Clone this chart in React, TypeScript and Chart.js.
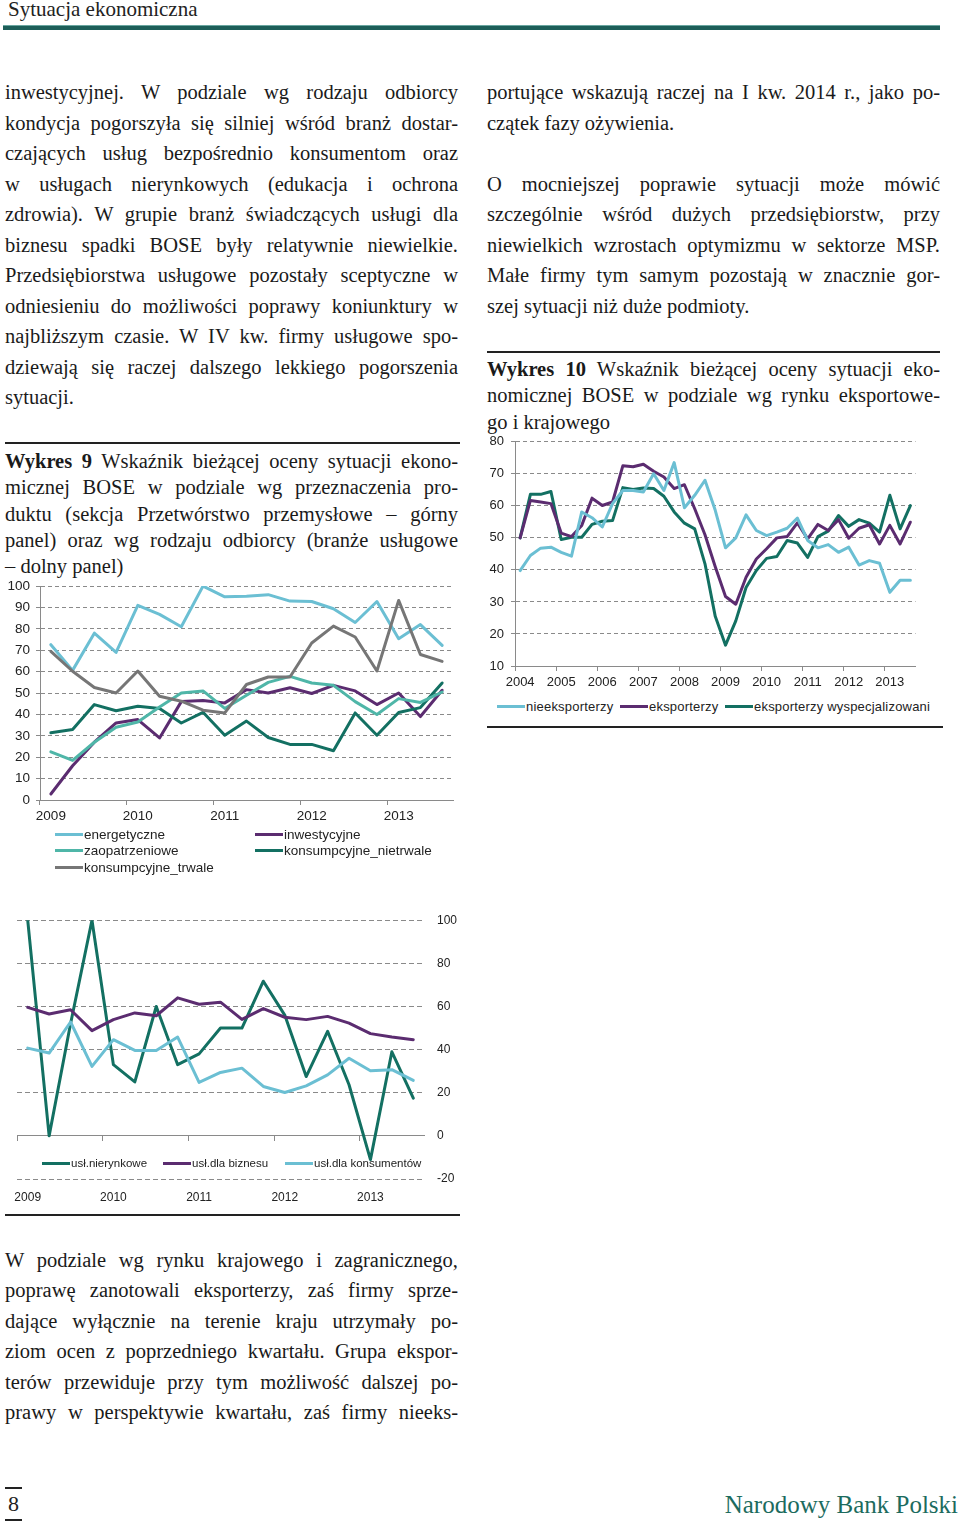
import React, { useEffect, useRef } from 'react';
import { Chart, registerables } from 'chart.js';

Chart.register(...registerables);

// ---------- DATA ----------
const quarters0913 = [
  '2009Q1', '2009Q2', '2009Q3', '2009Q4',
  '2010Q1', '2010Q2', '2010Q3', '2010Q4',
  '2011Q1', '2011Q2', '2011Q3', '2011Q4',
  '2012Q1', '2012Q2', '2012Q3', '2012Q4',
  '2013Q1', '2013Q2', '2013Q3',
];

const quarters0413 = [
  '2004Q1', '2004Q2', '2004Q3', '2004Q4',
  '2005Q1', '2005Q2', '2005Q3', '2005Q4',
  '2006Q1', '2006Q2', '2006Q3', '2006Q4',
  '2007Q1', '2007Q2', '2007Q3', '2007Q4',
  '2008Q1', '2008Q2', '2008Q3', '2008Q4',
  '2009Q1', '2009Q2', '2009Q3', '2009Q4',
  '2010Q1', '2010Q2', '2010Q3', '2010Q4',
  '2011Q1', '2011Q2', '2011Q3', '2011Q4',
  '2012Q1', '2012Q2', '2012Q3', '2012Q4',
  '2013Q1', '2013Q2', '2013Q3',
];

// Wykres 9 – górny panel
const energetyczne = [72.6, 60.6, 78, 69, 91, 86.8, 81, 100, 95, 95.3, 96, 93, 92.8, 89.4, 83, 92.8, 75.4, 82, 72.3];
const inwestycyjne = [2.8, 16, 27, 36, 37.6, 29, 46, 46.5, 45.4, 51.6, 50, 52.5, 49.8, 53.6, 51, 44.6, 50, 39, 51.3];
const zaopatrzeniowe = [22.5, 18.5, 27, 34, 36.5, 43.5, 50, 51, 42.8, 49, 55, 57.8, 54.7, 53.6, 46, 40, 47.4, 45.6, 50.5];
const konsumpcyjneNietrwale = [31.4, 33, 44.6, 41.7, 43.8, 42.8, 36, 41, 30.3, 36.9, 29.2, 26, 26, 23, 40.7, 30.3, 40.9, 43.2, 54.7];
const konsumpcyjneTrwale = [69.5, 60.2, 52.6, 50, 60.3, 48.5, 46.2, 42, 40.7, 54, 57.5, 57.5, 73.4, 81.3, 76.2, 60.3, 93.3, 68, 64.8];

// Wykres 9 – dolny panel
const uslNierynkowe = [100, 0, 52, 100, 33, 25, 60, 33, 38, 50, 50, 71.7, 56, 27.5, 48.5, 23.7, -11, 39, 17.5];
const uslDlaBiznesu = [59.6, 56.5, 58.5, 48.8, 53.9, 57, 55.7, 64, 61, 62, 54, 59, 55, 53.9, 55.4, 52.3, 47.4, 45.8, 44.6];
const uslDlaKonsumentow = [40.7, 38.4, 52.8, 32.2, 44.6, 39.6, 39.6, 45.8, 24.8, 29.4, 31.4, 22.9, 20.1, 23.2, 28.3, 36, 30.2, 30.7, 25.7];

// Wykres 10
const nieeksporterzy = [
  39.8, 44.5, 46.8, 47.1, 45.5, 44.3, 58.1, 56.3, 53.4, 60.7,
  64.8, 64.8, 64.3, 70, 64.8, 73.5, 59.4, 63.3, 68, 58.6,
  46.9, 50, 57.2, 52.3, 50.7, 51.8, 53, 56.2, 49.2, 46.9,
  47.9, 45.5, 47.1, 41.5, 42.9, 42.1, 33, 36.8, 36.8,
];
const eksporterzy = [
  50, 61.7, 61.2, 60.7, 51.5, 50.4, 53.9, 62.4, 60.1, 61.2,
  72.5, 72.2, 73, 70.8, 69, 65.4, 66.6, 59.1, 51, 41,
  31.7, 29.3, 37.7, 43.4, 46.6, 50, 50.4, 54.7, 49.7, 54.2,
  52.3, 55.7, 49.9, 53, 54.1, 48.1, 53.9, 48.1, 54.9,
];
const eksporterzyWyspecjalizowani = [
  50, 63.6, 63.6, 64.5, 49.5, 50.2, 50.2, 54.2, 55.2, 55.4,
  65.7, 65.1, 65.6, 65.4, 63, 58.1, 54.6, 52.8, 41.9, 25.5,
  16.5, 24.1, 34.5, 39.8, 43.6, 44.2, 49.2, 48.4, 43.9, 50.4,
  52.1, 57, 53.6, 55.7, 54.6, 51.8, 63.3, 52.8, 60.1,
];

// ---------- STYLE ----------
const SANS = '"Liberation Sans", Arial, sans-serif';
const SERIF = '"Liberation Serif", "Times New Roman", serif';
const TEXT = '#1a1a1a';
const GRID = '#8a8a8a';
const LIGHT_BLUE = '#6BBFD3';
const MED_TEAL = '#4FB6A8';
const PURPLE = '#5B2C70';
const DARK_TEAL = '#137062';
const GRAY = '#767676';
const TRANSPARENT = 'rgba(0,0,0,0)';

const yearOf = (q: string) => (q.endsWith('Q1') ? q.slice(0, 4) : '');

function ds(label: string, data: number[], color: string, xAxisID = 'x') {
  return {
    label,
    data,
    borderColor: color,
    backgroundColor: color,
    borderWidth: 3,
    pointRadius: 0,
    pointHoverRadius: 0,
    tension: 0,
    borderJoinStyle: 'round',
    borderCapStyle: 'round',
    fill: false,
    xAxisID,
  };
}

const yearTickColor = (ctx: any) => (ctx.index !== undefined && ctx.index % 4 === 0 ? GRID : TRANSPARENT);

function chart1Config(): any {
  return {
    type: 'line',
    data: {
      labels: quarters0913,
      datasets: [
        ds('konsumpcyjne_trwale', konsumpcyjneTrwale, GRAY),
        ds('zaopatrzeniowe', zaopatrzeniowe, MED_TEAL),
        ds('konsumpcyjne_nietrwale', konsumpcyjneNietrwale, DARK_TEAL),
        ds('inwestycyjne', inwestycyjne, PURPLE),
        ds('energetyczne', energetyczne, LIGHT_BLUE),
      ],
    },
    options: {
      responsive: false,
      animation: false,
      events: [],
      layout: { padding: { top: 0, right: 12, bottom: 0, left: 0 } },
      plugins: { legend: { display: false }, tooltip: { enabled: false } },
      scales: {
        x: {
          type: 'category',
          offset: true,
          grid: { offset: true, drawOnChartArea: false, drawTicks: true, tickLength: 5, color: yearTickColor },
          border: { display: true, color: GRID, width: 1 },
          ticks: {
            autoSkip: false, maxRotation: 0, minRotation: 0, padding: 3,
            color: '#222', font: { family: SANS, size: 13.5 },
            callback: (_v: any, i: number) => yearOf(quarters0913[i]),
          },
          afterFit: (s: any) => { s.height = 26; },
        },
        y: {
          min: 0, max: 100,
          ticks: { stepSize: 10, padding: 6, color: '#222', font: { family: SANS, size: 13.5 } },
          grid: { color: GRID, drawTicks: true, tickLength: 4, tickBorderDash: [] },
          border: { display: true, color: GRID, width: 1, dash: [4, 3] },
          afterFit: (s: any) => { s.width = 40; },
        },
      },
    },
  };
}

function chart2Config(): any {
  return {
    type: 'line',
    data: {
      labels: quarters0913,
      datasets: [
        ds('usł.dla konsumentów', uslDlaKonsumentow, LIGHT_BLUE),
        ds('usł.dla biznesu', uslDlaBiznesu, PURPLE),
        ds('usł.nierynkowe', uslNierynkowe, DARK_TEAL),
      ],
    },
    options: {
      responsive: false,
      animation: false,
      events: [],
      layout: { padding: { top: 0, right: 0, bottom: 0, left: 17 } },
      plugins: { legend: { display: false }, tooltip: { enabled: false } },
      scales: {
        x: {
          type: 'category',
          axis: 'x',
          position: { y: 0 },
          offset: true,
          grid: { offset: true, drawOnChartArea: false, drawTicks: true, tickLength: 5, color: yearTickColor },
          border: { display: true, color: GRID, width: 1 },
          ticks: { display: false, autoSkip: false },
        },
        x2: {
          type: 'category',
          axis: 'x',
          position: 'bottom',
          offset: true,
          grid: { display: false, drawTicks: false },
          border: { display: false },
          ticks: {
            autoSkip: false, maxRotation: 0, minRotation: 0, padding: 11,
            color: '#222', font: { family: SANS, size: 12 },
            callback: (_v: any, i: number) => yearOf(quarters0913[i]),
          },
          afterFit: (s: any) => { s.height = 30; },
        },
        y: {
          position: 'right',
          min: -20, max: 100,
          ticks: { stepSize: 20, padding: 13, color: '#222', font: { family: SANS, size: 12 } },
          grid: { color: GRID, drawTicks: false },
          border: { display: false, dash: [5, 3] },
          afterFit: (s: any) => { s.width = 41; },
        },
      },
    },
  };
}

function chart3Config(): any {
  return {
    type: 'line',
    data: {
      labels: quarters0413,
      datasets: [
        ds('nieeksporterzy', nieeksporterzy, LIGHT_BLUE),
        ds('eksporterzy', eksporterzy, PURPLE),
        ds('eksporterzy wyspecjalizowani', eksporterzyWyspecjalizowani, DARK_TEAL),
      ],
    },
    options: {
      responsive: false,
      animation: false,
      events: [],
      layout: { padding: { top: 0, right: 29.5, bottom: 0, left: 0 } },
      plugins: { legend: { display: false }, tooltip: { enabled: false } },
      scales: {
        x: {
          type: 'category',
          offset: true,
          grid: { offset: true, drawOnChartArea: false, drawTicks: true, tickLength: 5, color: yearTickColor },
          border: { display: true, color: GRID, width: 1 },
          ticks: {
            autoSkip: false, maxRotation: 0, minRotation: 0, padding: 4,
            color: '#222', font: { family: SANS, size: 13 },
            callback: (_v: any, i: number) => yearOf(quarters0413[i]),
          },
          afterFit: (s: any) => { s.height = 24; },
        },
        y: {
          min: 10, max: 80,
          ticks: { stepSize: 10, padding: 7, color: '#222', font: { family: SANS, size: 13 } },
          grid: { color: GRID, drawTicks: true, tickLength: 4, tickBorderDash: [] },
          border: { display: true, color: GRID, width: 1, dash: [4, 3] },
          afterFit: (s: any) => { s.width = 35; },
        },
      },
    },
  };
}

// ---------- COMPONENTS ----------
function ChartCanvas({ make, left, top, width, height }: any) {
  const ref = useRef<HTMLCanvasElement | null>(null);
  useEffect(() => {
    const chart = new Chart(ref.current as HTMLCanvasElement, make());
    return () => chart.destroy();
  }, []);
  return (
    <canvas
      ref={ref}
      width={width}
      height={height}
      style={{ position: 'absolute', left, top, width, height }}
    />
  );
}

type Line = { t: React.ReactNode; j?: boolean };

function TextBlock({ left, top, width, lh, size, lines }: { left: number; top: number; width: number; lh: number; size: number; lines: Line[] }) {
  return (
    <div style={{ position: 'absolute', left, top, width, fontFamily: SERIF, fontSize: size, color: TEXT }}>
      {lines.map((l, i) => (
        <div
          key={i}
          style={{
            height: lh,
            lineHeight: lh + 'px',
            textAlign: l.j ? 'justify' : 'left',
            textAlignLast: l.j ? 'justify' : 'left',
          } as any}
        >
          {l.t || '\u00a0'}
        </div>
      ))}
    </div>
  );
}

function LegendItem({ x, y, color, label, size, spacing }: any) {
  return (
    <div
      style={{
        position: 'absolute', left: x, top: y - 9, height: 18, display: 'flex', alignItems: 'center',
        fontFamily: SANS, fontSize: size, color: '#222', letterSpacing: spacing || 0, whiteSpace: 'nowrap',
      }}
    >
      <span style={{ display: 'inline-block', width: 28, height: 3, background: color, marginRight: 1 }} />
      <span>{label}</span>
    </div>
  );
}

function Rule({ left, top, width, height = 2, color = '#222' }: any) {
  return <div style={{ position: 'absolute', left, top, width, height, background: color }} />;
}

const leftCol: Line[] = [
  { t: 'inwestycyjnej. W podziale wg rodzaju odbiorcy', j: true },
  { t: 'kondycja pogorszyła się silniej wśród branż dostar-', j: true },
  { t: 'czających usług bezpośrednio konsumentom oraz', j: true },
  { t: 'w usługach nierynkowych (edukacja i ochrona', j: true },
  { t: 'zdrowia). W grupie branż świadczących usługi dla', j: true },
  { t: 'biznesu spadki BOSE były relatywnie niewielkie.', j: true },
  { t: 'Przedsiębiorstwa usługowe pozostały sceptyczne w', j: true },
  { t: 'odniesieniu do możliwości poprawy koniunktury w', j: true },
  { t: 'najbliższym czasie. W IV kw. firmy usługowe spo-', j: true },
  { t: 'dziewają się raczej dalszego lekkiego pogorszenia', j: true },
  { t: 'sytuacji.' },
];

const caption9: Line[] = [
  { t: <><b>Wykres 9</b> Wskaźnik bieżącej oceny sytuacji ekono-</>, j: true },
  { t: 'micznej BOSE w podziale wg przeznaczenia pro-', j: true },
  { t: 'duktu (sekcja Przetwórstwo przemysłowe – górny', j: true },
  { t: 'panel) oraz wg rodzaju odbiorcy (branże usługowe', j: true },
  { t: '– dolny panel)' },
];

const rightCol: Line[] = [
  { t: 'portujące wskazują raczej na I kw. 2014 r., jako po-', j: true },
  { t: 'czątek fazy ożywienia.' },
  { t: '' },
  { t: 'O mocniejszej poprawie sytuacji może mówić', j: true },
  { t: 'szczególnie wśród dużych przedsiębiorstw, przy', j: true },
  { t: 'niewielkich wzrostach optymizmu w sektorze MSP.', j: true },
  { t: 'Małe firmy tym samym pozostają w znacznie gor-', j: true },
  { t: 'szej sytuacji niż duże podmioty.' },
];

const caption10: Line[] = [
  { t: <><b>Wykres 10</b> Wskaźnik bieżącej oceny sytuacji eko-</>, j: true },
  { t: 'nomicznej BOSE w podziale wg rynku eksportowe-', j: true },
  { t: 'go i krajowego' },
];

const bottomCol: Line[] = [
  { t: 'W podziale wg rynku krajowego i zagranicznego,', j: true },
  { t: 'poprawę zanotowali eksporterzy, zaś firmy sprze-', j: true },
  { t: 'dające wyłącznie na terenie kraju utrzymały po-', j: true },
  { t: 'ziom ocen z poprzedniego kwartału. Grupa ekspor-', j: true },
  { t: 'terów przewiduje przy tym możliwość dalszej po-', j: true },
  { t: 'prawy w perspektywie kwartału, zaś firmy nieeks-', j: true },
];

export default function App() {
  return (
    <div style={{ position: 'absolute', left: 0, top: 0, width: 960, height: 1522, background: '#fff', overflow: 'hidden' }}>
      {/* header */}
      <div style={{ position: 'absolute', left: 8, top: -3, fontFamily: SERIF, fontSize: 21, color: '#222' }}>
        Sytuacja ekonomiczna
      </div>
      <Rule left={3} top={25} width={937} height={1} color="#6aa6a0" />
      <Rule left={3} top={26} width={937} height={4} color="#1d5e59" />

      {/* left column text */}
      <TextBlock left={5} top={77} width={453} lh={30.5} size={20.5} lines={leftCol} />
      <Rule left={5} top={442} width={455} height={2} />
      <TextBlock left={5} top={448} width={453} lh={26.3} size={20.5} lines={caption9} />

      {/* chart 1 */}
      <ChartCanvas make={chart1Config} left={0} top={572} width={465} height={254} />
      <LegendItem x={55} y={834} color={LIGHT_BLUE} label="energetyczne" size={13.5} />
      <LegendItem x={255} y={834} color={PURPLE} label="inwestycyjne" size={13.5} />
      <LegendItem x={55} y={850} color={MED_TEAL} label="zaopatrzeniowe" size={13.5} />
      <LegendItem x={255} y={850} color={DARK_TEAL} label="konsumpcyjne_nietrwale" size={13.5} />
      <LegendItem x={55} y={867} color={GRAY} label="konsumpcyjne_trwale" size={13.5} />

      {/* chart 2 */}
      <ChartCanvas make={chart2Config} left={0} top={900} width={465} height={309} />
      <LegendItem x={42} y={1163} color={DARK_TEAL} label="usł.nierynkowe" size={11.5} />
      <LegendItem x={163} y={1163} color={PURPLE} label="usł.dla biznesu" size={11.5} />
      <LegendItem x={285} y={1163} color={LIGHT_BLUE} label="usł.dla konsumentów" size={11.5} />
      <Rule left={5} top={1214} width={455} height={2} />

      {/* bottom text */}
      <TextBlock left={5} top={1245} width={453} lh={30.4} size={20.5} lines={bottomCol} />

      {/* right column */}
      <TextBlock left={487} top={77} width={453} lh={30.5} size={20.5} lines={rightCol} />
      <Rule left={487} top={351} width={453} height={2} />
      <TextBlock left={487} top={356} width={453} lh={26.3} size={20.5} lines={caption10} />
      <ChartCanvas make={chart3Config} left={480} top={427} width={465} height={263} />
      <LegendItem x={497} y={706} color={LIGHT_BLUE} label="nieeksporterzy" size={13} spacing={0.2} />
      <LegendItem x={620} y={706} color={PURPLE} label="eksporterzy" size={13} spacing={0.2} />
      <LegendItem x={725} y={706} color={DARK_TEAL} label="eksporterzy wyspecjalizowani" size={13} spacing={0.2} />
      <Rule left={487} top={726} width={456} height={2} />

      {/* footer */}
      <Rule left={5} top={1487} width={17} height={1.5} />
      <div style={{ position: 'absolute', left: 8, top: 1490, fontFamily: SERIF, fontSize: 22, color: '#222', lineHeight: '28px' }}>8</div>
      <Rule left={5} top={1519} width={17} height={1.5} />
      <div style={{ position: 'absolute', right: 2, top: 1490, fontFamily: SERIF, fontSize: 25, color: '#1c6b5e', lineHeight: '30px' }}>
        Narodowy Bank Polski
      </div>
    </div>
  );
}
